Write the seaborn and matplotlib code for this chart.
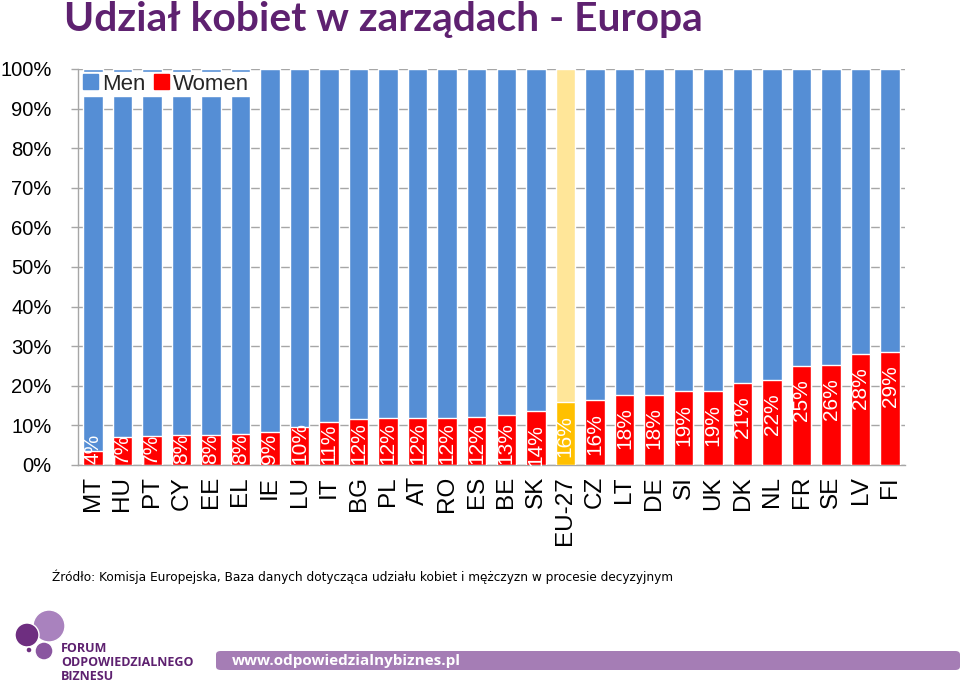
import matplotlib
matplotlib.use("Agg")
import matplotlib.pyplot as plt
import matplotlib.patches as mpatches
import seaborn as sns
import pandas as pd

countries = ["MT", "HU", "PT", "CY", "EE", "EL", "IE", "LU", "IT", "BG", "PL", "AT", "RO", "ES",
             "BE", "SK", "EU-27", "CZ", "LT", "DE", "SI", "UK", "DK", "NL", "FR", "SE", "LV", "FI"]
women = [3.5, 7.1, 7.2, 7.5, 7.6, 7.8, 8.4, 9.6, 10.9, 11.6, 11.8, 11.8, 11.8, 12.2,
         12.7, 13.7, 15.9, 16.3, 17.8, 17.8, 18.7, 18.7, 20.6, 21.4, 24.9, 25.3, 28.0, 28.5]
labels = ["4%", "7%", "7%", "8%", "8%", "8%", "9%", "10%", "11%", "12%", "12%", "12%", "12%", "12%",
          "13%", "14%", "16%", "16%", "18%", "18%", "19%", "19%", "21%", "22%", "25%", "26%", "28%", "29%"]
yticks = [0, 10, 20, 30, 40, 50, 60, 70, 80, 90, 100]
title = "Udział kobiet w zarządach - Europa"
source = "Źródło: Komisja Europejska, Baza danych dotycząca udziału kobiet i mężczyzn w procesie decyzyjnym"

BLUE = "#558ED5"
RED = "#FF0000"
EU_MEN = "#FFE699"
EU_WOMEN = "#FFC000"
GRID = "#A6A6A6"
PURPLE = "#5E2170"

df = pd.DataFrame({"country": countries, "women": women})
df["total"] = 100.0

sns.set_theme(style="white")
plt.rcParams["font.family"] = ["Liberation Sans", "DejaVu Sans"]

fig = plt.figure(figsize=(9.6, 6.97), dpi=100)
ax = fig.add_axes([78 / 960, 1 - 465 / 697, (905 - 78) / 960, (465 - 69) / 697])

men_pal = {c: (EU_MEN if c == "EU-27" else BLUE) for c in countries}
women_pal = {c: (EU_WOMEN if c == "EU-27" else RED) for c in countries}

sns.barplot(data=df, x="country", y="total", hue="country", palette=men_pal,
            width=0.66, legend=False, ax=ax, saturation=1, zorder=2)
sns.barplot(data=df, x="country", y="women", hue="country", palette=women_pal,
            width=0.66, legend=False, ax=ax, saturation=1, zorder=3)

# value labels
for i, (v, lab) in enumerate(zip(women, labels)):
    h = 10.0 if len(lab) == 3 else 7.5
    top = v - 3.3
    if top - h < 0.3:
        ax.text(i, 0.3, lab, rotation=90, ha="center", va="bottom", color="white",
                fontsize=15, zorder=5)
    else:
        ax.text(i, top, lab, rotation=90, ha="center", va="top", color="white",
                fontsize=15, zorder=5)

ax.set_ylim(0, 100)
ax.set_xlim(-0.5, len(countries) - 0.5)
ax.set_yticks(yticks)
ax.set_yticklabels([f"{t}%" for t in yticks], fontsize=14.5, color="black")
ax.yaxis.grid(True, color=GRID, linewidth=1, zorder=0)
ax.set_axisbelow(True)
ax.set_xlabel("")
ax.set_ylabel("")

ax.set_xticks(range(len(countries)))
ax.set_xticklabels(countries, rotation=90, fontsize=17.5, color="black")
ax.set_xticks([i - 0.5 for i in range(len(countries) + 1)], minor=True)
ax.tick_params(axis="x", which="major", length=0, pad=8)
ax.tick_params(axis="x", which="minor", length=6, color=GRID, width=1, direction="out")
ax.tick_params(axis="y", length=5, color=GRID, width=1, direction="out", left=True, pad=14)

for s in ["top", "right"]:
    ax.spines[s].set_visible(False)
for s in ["left", "bottom"]:
    ax.spines[s].set_color(GRID)
    ax.spines[s].set_linewidth(1)

handles = [mpatches.Patch(color=BLUE, label="Men"), mpatches.Patch(color=RED, label="Women")]
leg = ax.legend(handles=handles, loc="upper left", bbox_to_anchor=(0.004, 0.993), ncol=2,
                frameon=True, fontsize=16, handlelength=0.65, handleheight=0.65,
                handletextpad=0.2, columnspacing=0.4, borderpad=0.08, borderaxespad=0.0)
leg.get_frame().set_facecolor("white")
leg.get_frame().set_edgecolor("white")
leg.get_frame().set_alpha(1)
leg.get_frame().set_boxstyle("square", pad=0)
leg.set_zorder(10)

# title and source
fig.text(64 / 960, 1 - 31 / 697, title, fontsize=29.3, fontweight="bold", color=PURPLE,
         family=["Lato", "DejaVu Sans"], ha="left", va="baseline")
fig.text(52 / 960, 1 - 577 / 697, source, fontsize=9.7, color="black",
         family=["DejaVu Sans"], stretch="condensed", ha="left", va="center")

# footer decoration
bar = mpatches.FancyBboxPatch((216 / 960, 1 - 670 / 697), (960 - 216) / 960, 19 / 697,
                              boxstyle="round,pad=0,rounding_size=0.005",
                              transform=fig.transFigure, facecolor="#A57DB5", edgecolor="none")
fig.patches.append(bar)
fig.text(232 / 960, 1 - 660.5 / 697, "www.odpowiedzialnybiznes.pl", fontsize=11, fontweight="bold",
         color="white", family=["Open Sans", "DejaVu Sans"], ha="left", va="center")

for (cx, cy, r, col) in [(49, 626, 16, "#A982BE"), (27, 635, 12, "#6E2E80"),
                         (44, 651, 9, "#8A56A0"), (29, 650, 3, "#6E2E80")]:
    circ = mpatches.Ellipse((cx / 960, 1 - cy / 697), 2 * r / 960, 2 * r / 697,
                            transform=fig.transFigure, facecolor=col, edgecolor="white",
                            linewidth=1)
    fig.patches.append(circ)
for txt, yy in [("FORUM", 649), ("ODPOWIEDZIALNEGO", 663), ("BIZNESU", 676)]:
    fig.text(61 / 960, 1 - yy / 697, txt, fontsize=9, fontweight="bold", color=PURPLE,
             family=["Open Sans", "DejaVu Sans"], ha="left", va="center")

fig.savefig("out.png", dpi=100, facecolor="white")
